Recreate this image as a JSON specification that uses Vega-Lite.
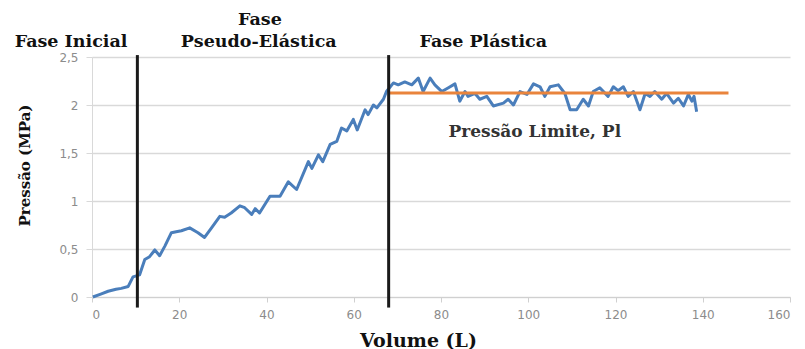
{
  "$schema": "https://vega.github.io/schema/vega-lite/v6.json",
  "width": 698,
  "height": 240,
  "autosize": "none",
  "padding": {"left": 92, "top": 57, "right": 15, "bottom": 52},
  "background": "white",
  "config": {"view": {"stroke": null}},
  "datasets": {
    "curve": [
      {"v": 0.2, "p": 0.0}, {"v": 2, "p": 0.03}, {"v": 3.7, "p": 0.06}, {"v": 5.5, "p": 0.08},
      {"v": 6.7, "p": 0.09}, {"v": 8.3, "p": 0.11}, {"v": 9.4, "p": 0.21}, {"v": 10.9, "p": 0.23},
      {"v": 12.1, "p": 0.39}, {"v": 13.2, "p": 0.42}, {"v": 14.4, "p": 0.49}, {"v": 15.5, "p": 0.43},
      {"v": 16.7, "p": 0.53}, {"v": 18.2, "p": 0.67}, {"v": 19.3, "p": 0.68}, {"v": 20.5, "p": 0.69},
      {"v": 22.4, "p": 0.72}, {"v": 24.3, "p": 0.67}, {"v": 25.8, "p": 0.62}, {"v": 27.4, "p": 0.72},
      {"v": 29.3, "p": 0.84}, {"v": 30.4, "p": 0.83}, {"v": 31.9, "p": 0.875}, {"v": 33.9, "p": 0.95},
      {"v": 35, "p": 0.93}, {"v": 36.6, "p": 0.86}, {"v": 37.4, "p": 0.92}, {"v": 38.4, "p": 0.875},
      {"v": 40.8, "p": 1.05}, {"v": 43.1, "p": 1.05}, {"v": 45, "p": 1.2}, {"v": 46.9, "p": 1.12},
      {"v": 49.6, "p": 1.41}, {"v": 50.4, "p": 1.34}, {"v": 51.9, "p": 1.48}, {"v": 52.9, "p": 1.41},
      {"v": 54.6, "p": 1.59}, {"v": 56.1, "p": 1.62}, {"v": 57.2, "p": 1.76}, {"v": 58.4, "p": 1.73},
      {"v": 59.9, "p": 1.85}, {"v": 60.8, "p": 1.74}, {"v": 62.6, "p": 1.95}, {"v": 63.3, "p": 1.9},
      {"v": 64.5, "p": 2.0}, {"v": 65.3, "p": 1.97}, {"v": 66.8, "p": 2.06}, {"v": 67.5, "p": 2.14},
      {"v": 69.1, "p": 2.23}, {"v": 70.2, "p": 2.21}, {"v": 71.7, "p": 2.24}, {"v": 73.3, "p": 2.21},
      {"v": 74.8, "p": 2.28}, {"v": 75.9, "p": 2.14}, {"v": 77.5, "p": 2.28}, {"v": 78.6, "p": 2.21},
      {"v": 80.2, "p": 2.14}, {"v": 81.7, "p": 2.18}, {"v": 83.2, "p": 2.22}, {"v": 84.3, "p": 2.04},
      {"v": 85.5, "p": 2.14}, {"v": 86.2, "p": 2.09}, {"v": 87.8, "p": 2.12}, {"v": 88.9, "p": 2.06},
      {"v": 90.5, "p": 2.09}, {"v": 92, "p": 1.99}, {"v": 94.3, "p": 2.02}, {"v": 95.4, "p": 2.06},
      {"v": 96.6, "p": 2.0}, {"v": 98.1, "p": 2.14}, {"v": 99.7, "p": 2.11}, {"v": 101.2, "p": 2.22},
      {"v": 102.7, "p": 2.19}, {"v": 103.8, "p": 2.09}, {"v": 105, "p": 2.19}, {"v": 106.9, "p": 2.21},
      {"v": 108.4, "p": 2.12}, {"v": 109.6, "p": 1.95}, {"v": 111.1, "p": 1.95}, {"v": 112.6, "p": 2.06},
      {"v": 113.8, "p": 1.99}, {"v": 114.9, "p": 2.14}, {"v": 116.4, "p": 2.18}, {"v": 118.3, "p": 2.09},
      {"v": 119.5, "p": 2.19}, {"v": 120.6, "p": 2.15}, {"v": 121.8, "p": 2.19}, {"v": 122.9, "p": 2.09},
      {"v": 124.1, "p": 2.14}, {"v": 125.6, "p": 1.95}, {"v": 126.8, "p": 2.12}, {"v": 127.9, "p": 2.09},
      {"v": 129, "p": 2.14}, {"v": 130.6, "p": 2.06}, {"v": 131.7, "p": 2.12}, {"v": 133.3, "p": 2.02},
      {"v": 134.4, "p": 2.07}, {"v": 135.6, "p": 1.99}, {"v": 136.7, "p": 2.11}, {"v": 137.5, "p": 2.04},
      {"v": 138, "p": 2.09}, {"v": 138.6, "p": 1.93}
    ],
    "phases": [{"v": 10.4}, {"v": 68}],
    "limit": [{"v": 68, "v2": 145.9, "p": 2.125}],
    "labels": [
      {"v": -4.8, "p": 2.607, "t": "Fase Inicial"},
      {"v": 38.5, "p": 2.836, "t": "Fase"},
      {"v": 38.2, "p": 2.607, "t": "Pseudo-Elástica"},
      {"v": 89.7, "p": 2.607, "t": "Fase Plástica"}
    ],
    "note": [{"v": 101.5, "p": 1.67, "t": "Pressão Limite, Pl"}]
  },
  "layer": [
    {
      "data": {"name": "curve"},
      "mark": {"type": "line", "color": "#4A7EBB", "strokeWidth": 3, "strokeJoin": "round"},
      "encoding": {
        "x": {
          "field": "v", "type": "quantitative",
          "scale": {"domain": [0, 160], "nice": false},
          "axis": {
            "values": [0, 20, 40, 60, 80, 100, 120, 140, 160],
            "grid": false,
            "domainColor": "#d0d0d0", "tickColor": "#d0d0d0", "tickSize": 5,
            "labelColor": "#8c8c8c", "labelFont": "DejaVu Sans", "labelFontSize": 12, "labelPadding": 7,
            "title": "Volume (L)", "titleFont": "DejaVu Serif", "titleFontSize": 19,
            "titleFontWeight": "bold", "titleColor": "#111111", "titlePadding": 11, "titleX": 326
          }
        },
        "y": {
          "field": "p", "type": "quantitative",
          "scale": {"domain": [0, 2.5], "nice": false},
          "axis": {
            "values": [0, 0.5, 1, 1.5, 2, 2.5],
            "labelExpr": "replace(format(datum.value, ''), '.', ',')",
            "grid": true, "gridColor": "#d9d9d9", "gridWidth": 1.5,
            "domainColor": "#d9d9d9", "tickColor": "#d9d9d9", "tickSize": 6,
            "labelColor": "#8c8c8c", "labelFont": "DejaVu Sans", "labelFontSize": 12, "labelPadding": 8,
            "title": "Pressão (MPa)", "titleFont": "DejaVu Serif", "titleFontSize": 15,
            "titleFontWeight": "bold", "titleColor": "#111111", "titlePadding": 26, "titleY": 108
          }
        }
      }
    },
    {
      "data": {"name": "limit"},
      "mark": {"type": "rule", "color": "#E9843C", "strokeWidth": 3},
      "encoding": {
        "x": {"field": "v", "type": "quantitative"},
        "x2": {"field": "v2"},
        "y": {"field": "p", "type": "quantitative"}
      }
    },
    {
      "data": {"name": "phases"},
      "mark": {"type": "rule", "color": "#1a1a1a", "strokeWidth": 3},
      "encoding": {
        "x": {"field": "v", "type": "quantitative"},
        "y": {"datum": 2.52},
        "y2": {"datum": -0.11}
      }
    },
    {
      "data": {"name": "labels"},
      "mark": {"type": "text", "font": "DejaVu Serif", "fontWeight": "bold", "fontSize": 17.5, "color": "#111111", "align": "center", "baseline": "alphabetic"},
      "encoding": {
        "x": {"field": "v", "type": "quantitative"},
        "y": {"field": "p", "type": "quantitative"},
        "text": {"field": "t"}
      }
    },
    {
      "data": {"name": "note"},
      "mark": {"type": "text", "font": "DejaVu Serif", "fontWeight": "bold", "fontSize": 17, "color": "#333333", "align": "center", "baseline": "alphabetic"},
      "encoding": {
        "x": {"field": "v", "type": "quantitative"},
        "y": {"field": "p", "type": "quantitative"},
        "text": {"field": "t"}
      }
    }
  ]
}
